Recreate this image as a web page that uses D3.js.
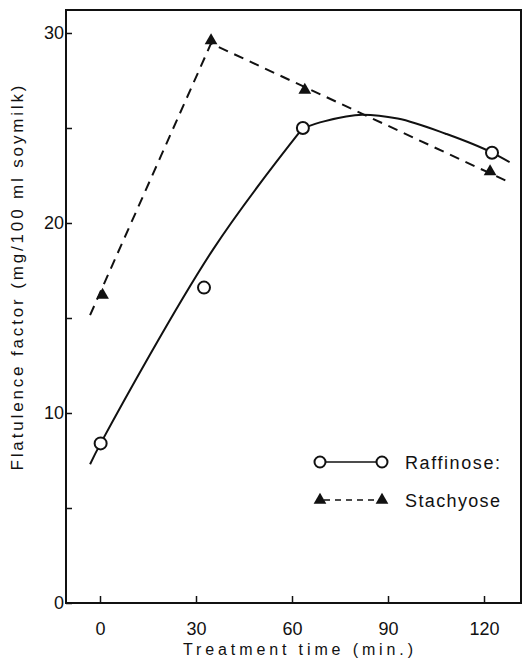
<!DOCTYPE html>
<html>
<head>
<meta charset="utf-8">
<script src="https://cdn.jsdelivr.net/npm/d3@7"></script>
<style>
  html, body { margin: 0; padding: 0; background: #fff; }
  svg { display: block; }
  text { font-family: "Liberation Sans", Arial, Helvetica, sans-serif; fill: #111; }
</style>
</head>
<body>
<svg id="chart" width="524" height="658"></svg>
<script>
// ---- data ----
const xTicks = [0, 30, 60, 90, 120];
const yTicksMajor = [0, 10, 20, 30];
const yTicksMinor = [5, 15, 25];

// measured points (time, value)
const raffinoseX = [0.2, 32.5, 63.4, 122.5];
const raffinoseY = [8.4, 16.6, 25.0, 23.7];
const stachyoseX = [0.8, 34.7, 64.0, 121.9];
const stachyoseY = [16.2, 29.6, 27.0, 22.7];

// drawn (fitted) curves: rising part and arc part of the raffinose curve
const raffinoseRiseX = [-3.1, 0.2, 35.3, 63.4];
const raffinoseRiseY = [7.3, 8.4, 18.6, 25.0];
const raffinoseArcX = [63.4, 70, 82, 93, 108, 122.5, 128];
const raffinoseArcY = [25.0, 25.35, 25.7, 25.5, 24.7, 23.7, 23.2];
const stachyoseLineX = [-3.1, 34.7, 127.2];
const stachyoseLineY = [15.15, 29.45, 22.2];

const legendLabels = ["Raffinose:", "Stachyose"];

// ---- layout ----
(function () {
const svg = d3.select("#chart");
const mLeft = 66, mRight = 521, mTop = 10, mBottom = 603;
const x = d3.scaleLinear().domain([-10.625, 131.56]).range([mLeft, mRight]);
const y = d3.scaleLinear().domain([0, 31.21]).range([mBottom, mTop]);

// frame
svg.append("rect")
  .attr("x", mLeft).attr("y", mTop)
  .attr("width", mRight - mLeft).attr("height", mBottom - mTop)
  .attr("fill", "none").attr("stroke", "#111").attr("stroke-width", 2);

// y axis
const yAxis = d3.axisLeft(y).tickValues(yTicksMajor.concat(yTicksMinor))
  .tickSizeInner(-6).tickSizeOuter(0).tickPadding(2)
  .tickFormat(d => yTicksMajor.includes(d) ? d : "");
const gy = svg.append("g").attr("transform", `translate(${mLeft},0)`).call(yAxis);
gy.select(".domain").remove();
gy.selectAll("line").attr("stroke", "#111").attr("stroke-width", 1.5);
gy.selectAll("text").attr("font-size", 18).attr("fill", "#111")
  .attr("font-family", "Liberation Sans, Arial, sans-serif");

// x axis
const xAxis = d3.axisBottom(x).tickValues(xTicks)
  .tickSizeInner(-7).tickSizeOuter(0).tickPadding(19);
const gx = svg.append("g").attr("transform", `translate(0,${mBottom})`).call(xAxis);
gx.select(".domain").remove();
gx.selectAll("line").attr("stroke", "#111").attr("stroke-width", 1.5);
gx.selectAll("text").attr("font-size", 18).attr("fill", "#111")
  .attr("font-family", "Liberation Sans, Arial, sans-serif");

// axis titles
svg.append("text")
  .attr("x", 298).attr("y", 655)
  .attr("text-anchor", "middle").attr("font-size", 16)
  .attr("textLength", 230).attr("lengthAdjust", "spacing")
  .text("Treatment time (min.)");

svg.append("text")
  .attr("transform", "translate(23,278) rotate(-90)")
  .attr("text-anchor", "middle").attr("font-size", 17)
  .attr("textLength", 385).attr("lengthAdjust", "spacing")
  .text("Flatulence factor (mg/100 ml soymilk)");

// lines
const rise = raffinoseRiseX.map((v, i) => [v, raffinoseRiseY[i]]);
const arc = raffinoseArcX.map((v, i) => [v, raffinoseArcY[i]]);
svg.append("path").datum(rise)
  .attr("d", d3.line().x(d => x(d[0])).y(d => y(d[1])).curve(d3.curveCatmullRom.alpha(0.5)))
  .attr("fill", "none").attr("stroke", "#111").attr("stroke-width", 2);
svg.append("path").datum(arc)
  .attr("d", d3.line().x(d => x(d[0])).y(d => y(d[1])).curve(d3.curveMonotoneX))
  .attr("fill", "none").attr("stroke", "#111").attr("stroke-width", 2);

const staLine = stachyoseLineX.map((v, i) => [v, stachyoseLineY[i]]);
svg.append("path").datum(staLine)
  .attr("d", d3.line().x(d => x(d[0])).y(d => y(d[1])))
  .attr("fill", "none").attr("stroke", "#111").attr("stroke-width", 2)
  .attr("stroke-dasharray", "10,7");

// markers
const tri = d3.symbol().type(d3.symbolTriangle).size(70);
const rafPts = raffinoseX.map((v, i) => [v, raffinoseY[i]]);
svg.selectAll(".raf").data(rafPts).enter().append("circle")
  .attr("cx", d => x(d[0])).attr("cy", d => y(d[1])).attr("r", 6)
  .attr("fill", "#fff").attr("stroke", "#111").attr("stroke-width", 2);

const staPts = stachyoseX.map((v, i) => [v, stachyoseY[i]]);
svg.selectAll(".sta").data(staPts).enter().append("path")
  .attr("d", tri)
  .attr("transform", d => `translate(${x(d[0])},${y(d[1])})`)
  .attr("fill", "#111");

// legend
const lg = svg.append("g");
lg.append("line").attr("x1", 320).attr("x2", 382).attr("y1", 462).attr("y2", 462)
  .attr("stroke", "#111").attr("stroke-width", 1.5);
[320, 382].forEach(cx => lg.append("circle").attr("cx", cx).attr("cy", 462).attr("r", 5.5)
  .attr("fill", "#fff").attr("stroke", "#111").attr("stroke-width", 2));
lg.append("text").attr("x", 405).attr("y", 469).attr("font-size", 18)
  .attr("textLength", 95).attr("lengthAdjust", "spacing").text(legendLabels[0]);
lg.append("line").attr("x1", 320).attr("x2", 382).attr("y1", 500).attr("y2", 500)
  .attr("stroke", "#111").attr("stroke-width", 1.5).attr("stroke-dasharray", "6,5")
  .attr("stroke-dashoffset", -4);
[320, 382].forEach(cx => lg.append("path").attr("d", tri)
  .attr("transform", `translate(${cx},500)`).attr("fill", "#111"));
lg.append("text").attr("x", 405).attr("y", 507).attr("font-size", 18)
  .attr("textLength", 95).attr("lengthAdjust", "spacing").text(legendLabels[1]);
})();
</script>
</body>
</html>
